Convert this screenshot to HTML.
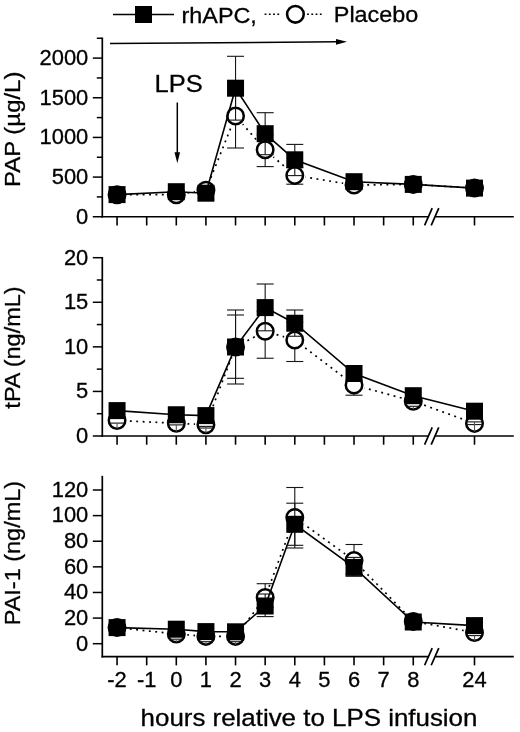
<!DOCTYPE html>
<html><head><meta charset="utf-8"><title>Figure</title>
<style>html,body{margin:0;padding:0;background:#fff}svg{display:block}text{stroke:#000;stroke-width:.3px}</style></head>
<body>
<svg width="520" height="732" viewBox="0 0 520 732" font-family='"Liberation Sans", sans-serif' fill="#000">
<rect width="520" height="732" fill="#fff"/>
<line x1="113.00" y1="14.50" x2="174.00" y2="14.50" stroke="#000" stroke-width="1.5" />
<rect x="135" y="6" width="17" height="17" fill="#000"/>
<text transform="translate(181.50,22.60) scale(1.04,1)" font-size="22.5" text-anchor="start" >rhAPC,</text>
<line x1="264.60" y1="14.20" x2="279.30" y2="14.20" stroke="#000" stroke-width="1.6" stroke-dasharray="1.8 2.45"/>
<line x1="307.10" y1="14.20" x2="321.80" y2="14.20" stroke="#000" stroke-width="1.6" stroke-dasharray="1.8 2.45"/>
<circle cx="295.4" cy="14.3" r="8.3" fill="#fff" stroke="#000" stroke-width="2.6"/>
<text transform="translate(333.80,21.70) scale(1.04,1)" font-size="22.5" text-anchor="start" >Placebo</text>
<g transform="rotate(-0.41 110 43.5)">
<line x1="110.00" y1="43.50" x2="338.00" y2="43.50" stroke="#000" stroke-width="1.5" />
<polygon points="347,43.5 336,40.6 336,46.4" fill="#000"/>
</g>
<text transform="translate(154.50,91.50) scale(1.041,1)" font-size="24.5" text-anchor="start" >LPS</text>
<line x1="177.30" y1="102.50" x2="177.30" y2="154.00" stroke="#000" stroke-width="1.5" />
<polygon points="177.3,163.3 174.5,152.3 180.1,152.3" fill="#000"/>
<polyline fill="none" stroke="#000" stroke-width="1.7" stroke-dasharray="1.9 4.5" points="117.06,194.70 176.30,194.70 205.92,190.20 235.54,116.00 265.16,149.80 294.78,175.40 354.02,185.00 413.26,184.40 474.50,188.10"/>
<circle cx="117.06" cy="194.70" r="11" fill="#fff"/>
<circle cx="176.30" cy="194.70" r="11" fill="#fff"/>
<circle cx="205.92" cy="190.20" r="11" fill="#fff"/>
<circle cx="235.54" cy="116.00" r="11" fill="#fff"/>
<circle cx="265.16" cy="149.80" r="11" fill="#fff"/>
<circle cx="294.78" cy="175.40" r="11" fill="#fff"/>
<circle cx="354.02" cy="185.00" r="11" fill="#fff"/>
<circle cx="413.26" cy="184.40" r="11" fill="#fff"/>
<circle cx="474.50" cy="188.10" r="11" fill="#fff"/>
<line x1="102.30" y1="37.55" x2="102.30" y2="217.60" stroke="#000" stroke-width="1.7" />
<line x1="92.80" y1="216.75" x2="102.30" y2="216.75" stroke="#000" stroke-width="1.5" />
<text transform="translate(88.30,223.55) scale(1.02,1)" font-size="21.5" text-anchor="end" >0</text>
<line x1="92.80" y1="177.09" x2="102.30" y2="177.09" stroke="#000" stroke-width="1.5" />
<text transform="translate(88.30,183.89) scale(1.02,1)" font-size="21.5" text-anchor="end" >500</text>
<line x1="92.80" y1="137.43" x2="102.30" y2="137.43" stroke="#000" stroke-width="1.5" />
<text transform="translate(88.30,144.23) scale(1.02,1)" font-size="21.5" text-anchor="end" >1000</text>
<line x1="92.80" y1="97.76" x2="102.30" y2="97.76" stroke="#000" stroke-width="1.5" />
<text transform="translate(88.30,104.56) scale(1.02,1)" font-size="21.5" text-anchor="end" >1500</text>
<line x1="92.80" y1="58.10" x2="102.30" y2="58.10" stroke="#000" stroke-width="1.5" />
<text transform="translate(88.30,64.90) scale(1.02,1)" font-size="21.5" text-anchor="end" >2000</text>
<line x1="96.80" y1="196.92" x2="102.30" y2="196.92" stroke="#000" stroke-width="1.5" />
<line x1="96.80" y1="157.26" x2="102.30" y2="157.26" stroke="#000" stroke-width="1.5" />
<line x1="96.80" y1="117.59" x2="102.30" y2="117.59" stroke="#000" stroke-width="1.5" />
<line x1="96.80" y1="77.93" x2="102.30" y2="77.93" stroke="#000" stroke-width="1.5" />
<line x1="96.80" y1="38.27" x2="102.30" y2="38.27" stroke="#000" stroke-width="1.5" />
<line x1="101.50" y1="216.75" x2="428.40" y2="216.75" stroke="#000" stroke-width="1.7" />
<line x1="435.20" y1="216.75" x2="513.80" y2="216.75" stroke="#000" stroke-width="1.7" />
<line x1="424.60" y1="225.35" x2="432.20" y2="208.15" stroke="#000" stroke-width="1.7" />
<line x1="431.20" y1="225.35" x2="438.80" y2="208.15" stroke="#000" stroke-width="1.7" />
<line x1="117.06" y1="216.75" x2="117.06" y2="225.45" stroke="#000" stroke-width="1.6" />
<line x1="146.68" y1="216.75" x2="146.68" y2="225.45" stroke="#000" stroke-width="1.6" />
<line x1="176.30" y1="216.75" x2="176.30" y2="225.45" stroke="#000" stroke-width="1.6" />
<line x1="205.92" y1="216.75" x2="205.92" y2="225.45" stroke="#000" stroke-width="1.6" />
<line x1="235.54" y1="216.75" x2="235.54" y2="225.45" stroke="#000" stroke-width="1.6" />
<line x1="265.16" y1="216.75" x2="265.16" y2="225.45" stroke="#000" stroke-width="1.6" />
<line x1="294.78" y1="216.75" x2="294.78" y2="225.45" stroke="#000" stroke-width="1.6" />
<line x1="324.40" y1="216.75" x2="324.40" y2="225.45" stroke="#000" stroke-width="1.6" />
<line x1="354.02" y1="216.75" x2="354.02" y2="225.45" stroke="#000" stroke-width="1.6" />
<line x1="383.64" y1="216.75" x2="383.64" y2="225.45" stroke="#000" stroke-width="1.6" />
<line x1="413.26" y1="216.75" x2="413.26" y2="225.45" stroke="#000" stroke-width="1.6" />
<line x1="474.50" y1="216.75" x2="474.50" y2="225.45" stroke="#000" stroke-width="1.6" />
<text transform="translate(20.3,129.3) rotate(-90)" font-size="22.8" text-anchor="middle" textLength="115.3" lengthAdjust="spacingAndGlyphs">PAP (µg/L)</text>
<line x1="235.54" y1="116.00" x2="235.54" y2="86.00" stroke="#151515" stroke-width="1.1" />
<line x1="227.04" y1="86.00" x2="244.04" y2="86.00" stroke="#151515" stroke-width="1.1" />
<line x1="235.54" y1="116.00" x2="235.54" y2="148.00" stroke="#151515" stroke-width="1.1" />
<line x1="227.04" y1="148.00" x2="244.04" y2="148.00" stroke="#151515" stroke-width="1.1" />
<line x1="265.16" y1="149.80" x2="265.16" y2="134.80" stroke="#151515" stroke-width="1.1" />
<line x1="256.66" y1="134.80" x2="273.66" y2="134.80" stroke="#151515" stroke-width="1.1" />
<line x1="265.16" y1="149.80" x2="265.16" y2="166.60" stroke="#151515" stroke-width="1.1" />
<line x1="256.66" y1="166.60" x2="273.66" y2="166.60" stroke="#151515" stroke-width="1.1" />
<line x1="294.78" y1="175.40" x2="294.78" y2="167.40" stroke="#151515" stroke-width="1.1" />
<line x1="286.28" y1="167.40" x2="303.28" y2="167.40" stroke="#151515" stroke-width="1.1" />
<line x1="294.78" y1="175.40" x2="294.78" y2="184.20" stroke="#151515" stroke-width="1.1" />
<line x1="286.28" y1="184.20" x2="303.28" y2="184.20" stroke="#151515" stroke-width="1.1" />
<circle cx="117.06" cy="194.70" r="8.25" fill="#fff" stroke="#000" stroke-width="2.5"/>
<circle cx="176.30" cy="194.70" r="8.25" fill="#fff" stroke="#000" stroke-width="2.5"/>
<circle cx="205.92" cy="190.20" r="8.25" fill="#fff" stroke="#000" stroke-width="2.5"/>
<circle cx="235.54" cy="116.00" r="8.25" fill="#fff" stroke="#000" stroke-width="2.5"/>
<circle cx="265.16" cy="149.80" r="8.25" fill="#fff" stroke="#000" stroke-width="2.5"/>
<circle cx="294.78" cy="175.40" r="8.25" fill="#fff" stroke="#000" stroke-width="2.5"/>
<circle cx="354.02" cy="185.00" r="8.25" fill="#fff" stroke="#000" stroke-width="2.5"/>
<circle cx="413.26" cy="184.40" r="8.25" fill="#fff" stroke="#000" stroke-width="2.5"/>
<circle cx="474.50" cy="188.10" r="8.25" fill="#fff" stroke="#000" stroke-width="2.5"/>
<polyline fill="none" stroke="#000" stroke-width="1.6" points="117.06,194.60 176.30,191.70 205.92,193.20 235.54,88.20 265.16,133.70 294.78,159.80 354.02,181.70 413.26,184.40 474.50,188.10"/>
<line x1="235.54" y1="88.20" x2="235.54" y2="56.30" stroke="#151515" stroke-width="1.1" />
<line x1="227.04" y1="56.30" x2="244.04" y2="56.30" stroke="#151515" stroke-width="1.1" />
<line x1="235.54" y1="88.20" x2="235.54" y2="120.10" stroke="#151515" stroke-width="1.1" />
<line x1="227.04" y1="120.10" x2="244.04" y2="120.10" stroke="#151515" stroke-width="1.1" />
<line x1="265.16" y1="133.70" x2="265.16" y2="112.70" stroke="#151515" stroke-width="1.1" />
<line x1="256.66" y1="112.70" x2="273.66" y2="112.70" stroke="#151515" stroke-width="1.1" />
<line x1="265.16" y1="133.70" x2="265.16" y2="154.70" stroke="#151515" stroke-width="1.1" />
<line x1="256.66" y1="154.70" x2="273.66" y2="154.70" stroke="#151515" stroke-width="1.1" />
<line x1="294.78" y1="159.80" x2="294.78" y2="144.40" stroke="#151515" stroke-width="1.1" />
<line x1="286.28" y1="144.40" x2="303.28" y2="144.40" stroke="#151515" stroke-width="1.1" />
<line x1="294.78" y1="159.80" x2="294.78" y2="175.60" stroke="#151515" stroke-width="1.1" />
<line x1="286.28" y1="175.60" x2="303.28" y2="175.60" stroke="#151515" stroke-width="1.1" />
<rect x="108.56" y="186.10" width="17" height="17" fill="#000"/>
<rect x="167.80" y="183.20" width="17" height="17" fill="#000"/>
<rect x="197.42" y="184.70" width="17" height="17" fill="#000"/>
<rect x="227.04" y="79.70" width="17" height="17" fill="#000"/>
<rect x="256.66" y="125.20" width="17" height="17" fill="#000"/>
<rect x="286.28" y="151.30" width="17" height="17" fill="#000"/>
<rect x="345.52" y="173.20" width="17" height="17" fill="#000"/>
<rect x="404.76" y="175.90" width="17" height="17" fill="#000"/>
<rect x="466.00" y="179.60" width="17" height="17" fill="#000"/>
<polyline fill="none" stroke="#000" stroke-width="1.7" stroke-dasharray="1.9 4.5" points="117.06,420.55 176.30,423.20 205.92,424.75 235.54,347.00 265.16,331.25 294.78,340.00 354.02,385.00 413.26,401.20 474.50,423.40"/>
<circle cx="117.06" cy="420.55" r="11" fill="#fff"/>
<circle cx="176.30" cy="423.20" r="11" fill="#fff"/>
<circle cx="205.92" cy="424.75" r="11" fill="#fff"/>
<circle cx="235.54" cy="347.00" r="11" fill="#fff"/>
<circle cx="265.16" cy="331.25" r="11" fill="#fff"/>
<circle cx="294.78" cy="340.00" r="11" fill="#fff"/>
<circle cx="354.02" cy="385.00" r="11" fill="#fff"/>
<circle cx="413.26" cy="401.20" r="11" fill="#fff"/>
<circle cx="474.50" cy="423.40" r="11" fill="#fff"/>
<line x1="102.30" y1="256.95" x2="102.30" y2="436.85" stroke="#000" stroke-width="1.7" />
<line x1="92.80" y1="436.00" x2="102.30" y2="436.00" stroke="#000" stroke-width="1.5" />
<text transform="translate(88.30,442.80) scale(1.02,1)" font-size="21.5" text-anchor="end" >0</text>
<line x1="92.80" y1="391.43" x2="102.30" y2="391.43" stroke="#000" stroke-width="1.5" />
<text transform="translate(88.30,398.23) scale(1.02,1)" font-size="21.5" text-anchor="end" >5</text>
<line x1="92.80" y1="346.85" x2="102.30" y2="346.85" stroke="#000" stroke-width="1.5" />
<text transform="translate(88.30,353.65) scale(1.02,1)" font-size="21.5" text-anchor="end" >10</text>
<line x1="92.80" y1="302.27" x2="102.30" y2="302.27" stroke="#000" stroke-width="1.5" />
<text transform="translate(88.30,309.07) scale(1.02,1)" font-size="21.5" text-anchor="end" >15</text>
<line x1="92.80" y1="257.70" x2="102.30" y2="257.70" stroke="#000" stroke-width="1.5" />
<text transform="translate(88.30,264.50) scale(1.02,1)" font-size="21.5" text-anchor="end" >20</text>
<line x1="96.80" y1="413.71" x2="102.30" y2="413.71" stroke="#000" stroke-width="1.5" />
<line x1="96.80" y1="369.14" x2="102.30" y2="369.14" stroke="#000" stroke-width="1.5" />
<line x1="96.80" y1="324.56" x2="102.30" y2="324.56" stroke="#000" stroke-width="1.5" />
<line x1="96.80" y1="279.99" x2="102.30" y2="279.99" stroke="#000" stroke-width="1.5" />
<line x1="101.50" y1="436.00" x2="428.40" y2="436.00" stroke="#000" stroke-width="1.7" />
<line x1="435.20" y1="436.00" x2="513.80" y2="436.00" stroke="#000" stroke-width="1.7" />
<line x1="424.60" y1="444.60" x2="432.20" y2="427.40" stroke="#000" stroke-width="1.7" />
<line x1="431.20" y1="444.60" x2="438.80" y2="427.40" stroke="#000" stroke-width="1.7" />
<line x1="117.06" y1="436.00" x2="117.06" y2="444.70" stroke="#000" stroke-width="1.6" />
<line x1="146.68" y1="436.00" x2="146.68" y2="444.70" stroke="#000" stroke-width="1.6" />
<line x1="176.30" y1="436.00" x2="176.30" y2="444.70" stroke="#000" stroke-width="1.6" />
<line x1="205.92" y1="436.00" x2="205.92" y2="444.70" stroke="#000" stroke-width="1.6" />
<line x1="235.54" y1="436.00" x2="235.54" y2="444.70" stroke="#000" stroke-width="1.6" />
<line x1="265.16" y1="436.00" x2="265.16" y2="444.70" stroke="#000" stroke-width="1.6" />
<line x1="294.78" y1="436.00" x2="294.78" y2="444.70" stroke="#000" stroke-width="1.6" />
<line x1="324.40" y1="436.00" x2="324.40" y2="444.70" stroke="#000" stroke-width="1.6" />
<line x1="354.02" y1="436.00" x2="354.02" y2="444.70" stroke="#000" stroke-width="1.6" />
<line x1="383.64" y1="436.00" x2="383.64" y2="444.70" stroke="#000" stroke-width="1.6" />
<line x1="413.26" y1="436.00" x2="413.26" y2="444.70" stroke="#000" stroke-width="1.6" />
<line x1="474.50" y1="436.00" x2="474.50" y2="444.70" stroke="#000" stroke-width="1.6" />
<text transform="translate(20.3,347.5) rotate(-90)" font-size="22.8" text-anchor="middle" textLength="122.3" lengthAdjust="spacingAndGlyphs">tPA (ng/mL)</text>
<line x1="235.54" y1="347.00" x2="235.54" y2="315.00" stroke="#151515" stroke-width="1.1" />
<line x1="227.04" y1="315.00" x2="244.04" y2="315.00" stroke="#151515" stroke-width="1.1" />
<line x1="235.54" y1="347.00" x2="235.54" y2="378.30" stroke="#151515" stroke-width="1.1" />
<line x1="227.04" y1="378.30" x2="244.04" y2="378.30" stroke="#151515" stroke-width="1.1" />
<line x1="265.16" y1="331.25" x2="265.16" y2="311.25" stroke="#151515" stroke-width="1.1" />
<line x1="256.66" y1="311.25" x2="273.66" y2="311.25" stroke="#151515" stroke-width="1.1" />
<line x1="265.16" y1="331.25" x2="265.16" y2="358.25" stroke="#151515" stroke-width="1.1" />
<line x1="256.66" y1="358.25" x2="273.66" y2="358.25" stroke="#151515" stroke-width="1.1" />
<line x1="294.78" y1="340.00" x2="294.78" y2="322.00" stroke="#151515" stroke-width="1.1" />
<line x1="286.28" y1="322.00" x2="303.28" y2="322.00" stroke="#151515" stroke-width="1.1" />
<line x1="294.78" y1="340.00" x2="294.78" y2="361.50" stroke="#151515" stroke-width="1.1" />
<line x1="286.28" y1="361.50" x2="303.28" y2="361.50" stroke="#151515" stroke-width="1.1" />
<line x1="354.02" y1="385.00" x2="354.02" y2="380.00" stroke="#151515" stroke-width="1.1" />
<line x1="345.52" y1="380.00" x2="362.52" y2="380.00" stroke="#151515" stroke-width="1.1" />
<line x1="354.02" y1="385.00" x2="354.02" y2="395.20" stroke="#151515" stroke-width="1.1" />
<line x1="345.52" y1="395.20" x2="362.52" y2="395.20" stroke="#151515" stroke-width="1.1" />
<circle cx="117.06" cy="420.55" r="8.25" fill="#fff" stroke="#000" stroke-width="2.5"/>
<circle cx="176.30" cy="423.20" r="8.25" fill="#fff" stroke="#000" stroke-width="2.5"/>
<circle cx="205.92" cy="424.75" r="8.25" fill="#fff" stroke="#000" stroke-width="2.5"/>
<circle cx="235.54" cy="347.00" r="8.25" fill="#fff" stroke="#000" stroke-width="2.5"/>
<circle cx="265.16" cy="331.25" r="8.25" fill="#fff" stroke="#000" stroke-width="2.5"/>
<circle cx="294.78" cy="340.00" r="8.25" fill="#fff" stroke="#000" stroke-width="2.5"/>
<circle cx="354.02" cy="385.00" r="8.25" fill="#fff" stroke="#000" stroke-width="2.5"/>
<circle cx="413.26" cy="401.20" r="8.25" fill="#fff" stroke="#000" stroke-width="2.5"/>
<circle cx="474.50" cy="423.40" r="8.25" fill="#fff" stroke="#000" stroke-width="2.5"/>
<polyline fill="none" stroke="#000" stroke-width="1.6" points="117.06,410.60 176.30,414.75 205.92,415.60 235.54,347.00 265.16,307.60 294.78,323.25 354.02,373.50 413.26,395.70 474.50,411.20"/>
<line x1="235.54" y1="347.00" x2="235.54" y2="310.00" stroke="#151515" stroke-width="1.1" />
<line x1="227.04" y1="310.00" x2="244.04" y2="310.00" stroke="#151515" stroke-width="1.1" />
<line x1="235.54" y1="347.00" x2="235.54" y2="384.00" stroke="#151515" stroke-width="1.1" />
<line x1="227.04" y1="384.00" x2="244.04" y2="384.00" stroke="#151515" stroke-width="1.1" />
<line x1="265.16" y1="307.60" x2="265.16" y2="284.00" stroke="#151515" stroke-width="1.1" />
<line x1="256.66" y1="284.00" x2="273.66" y2="284.00" stroke="#151515" stroke-width="1.1" />
<line x1="265.16" y1="307.60" x2="265.16" y2="330.80" stroke="#151515" stroke-width="1.1" />
<line x1="256.66" y1="330.80" x2="273.66" y2="330.80" stroke="#151515" stroke-width="1.1" />
<line x1="294.78" y1="323.25" x2="294.78" y2="310.00" stroke="#151515" stroke-width="1.1" />
<line x1="286.28" y1="310.00" x2="303.28" y2="310.00" stroke="#151515" stroke-width="1.1" />
<line x1="294.78" y1="323.25" x2="294.78" y2="336.25" stroke="#151515" stroke-width="1.1" />
<line x1="286.28" y1="336.25" x2="303.28" y2="336.25" stroke="#151515" stroke-width="1.1" />
<line x1="109.86" y1="423.10" x2="124.26" y2="423.10" stroke="#111" stroke-width="1.1" />
<line x1="117.06" y1="423.10" x2="117.06" y2="428.60" stroke="#555" stroke-width="1.1" />
<line x1="169.10" y1="424.90" x2="183.50" y2="424.90" stroke="#111" stroke-width="1.1" />
<line x1="176.30" y1="424.90" x2="176.30" y2="431.40" stroke="#555" stroke-width="1.1" />
<line x1="198.72" y1="426.40" x2="213.12" y2="426.40" stroke="#111" stroke-width="1.1" />
<line x1="198.72" y1="428.00" x2="213.12" y2="428.00" stroke="#111" stroke-width="1.1" />
<line x1="205.92" y1="426.40" x2="205.92" y2="433.00" stroke="#555" stroke-width="1.1" />
<line x1="406.06" y1="406.30" x2="420.46" y2="406.30" stroke="#111" stroke-width="1.1" />
<line x1="413.26" y1="406.30" x2="413.26" y2="409.30" stroke="#555" stroke-width="1.1" />
<line x1="467.30" y1="421.90" x2="481.70" y2="421.90" stroke="#111" stroke-width="1.1" />
<line x1="467.30" y1="424.60" x2="481.70" y2="424.60" stroke="#111" stroke-width="1.1" />
<line x1="474.50" y1="421.90" x2="474.50" y2="431.60" stroke="#555" stroke-width="1.1" />
<rect x="108.56" y="402.10" width="17" height="17" fill="#000"/>
<rect x="167.80" y="406.25" width="17" height="17" fill="#000"/>
<rect x="197.42" y="407.10" width="17" height="17" fill="#000"/>
<rect x="227.04" y="338.50" width="17" height="17" fill="#000"/>
<rect x="256.66" y="299.10" width="17" height="17" fill="#000"/>
<rect x="286.28" y="314.75" width="17" height="17" fill="#000"/>
<rect x="345.52" y="365.00" width="17" height="17" fill="#000"/>
<rect x="404.76" y="387.20" width="17" height="17" fill="#000"/>
<rect x="466.00" y="402.70" width="17" height="17" fill="#000"/>
<polyline fill="none" stroke="#000" stroke-width="1.7" stroke-dasharray="1.9 4.5" points="117.06,627.60 176.30,634.00 205.92,636.40 235.54,636.40 265.16,597.50 294.78,517.50 354.02,560.50 413.26,621.40 474.50,632.50"/>
<circle cx="117.06" cy="627.60" r="11" fill="#fff"/>
<circle cx="176.30" cy="634.00" r="11" fill="#fff"/>
<circle cx="205.92" cy="636.40" r="11" fill="#fff"/>
<circle cx="235.54" cy="636.40" r="11" fill="#fff"/>
<circle cx="265.16" cy="597.50" r="11" fill="#fff"/>
<circle cx="294.78" cy="517.50" r="11" fill="#fff"/>
<circle cx="354.02" cy="560.50" r="11" fill="#fff"/>
<circle cx="413.26" cy="621.40" r="11" fill="#fff"/>
<circle cx="474.50" cy="632.50" r="11" fill="#fff"/>
<line x1="102.30" y1="475.85" x2="102.30" y2="657.50" stroke="#000" stroke-width="1.7" />
<line x1="92.80" y1="643.70" x2="102.30" y2="643.70" stroke="#000" stroke-width="1.5" />
<text transform="translate(88.30,650.50) scale(1.02,1)" font-size="21.5" text-anchor="end" >0</text>
<line x1="92.80" y1="618.08" x2="102.30" y2="618.08" stroke="#000" stroke-width="1.5" />
<text transform="translate(88.30,624.88) scale(1.02,1)" font-size="21.5" text-anchor="end" >20</text>
<line x1="92.80" y1="592.47" x2="102.30" y2="592.47" stroke="#000" stroke-width="1.5" />
<text transform="translate(88.30,599.27) scale(1.02,1)" font-size="21.5" text-anchor="end" >40</text>
<line x1="92.80" y1="566.85" x2="102.30" y2="566.85" stroke="#000" stroke-width="1.5" />
<text transform="translate(88.30,573.65) scale(1.02,1)" font-size="21.5" text-anchor="end" >60</text>
<line x1="92.80" y1="541.24" x2="102.30" y2="541.24" stroke="#000" stroke-width="1.5" />
<text transform="translate(88.30,548.04) scale(1.02,1)" font-size="21.5" text-anchor="end" >80</text>
<line x1="92.80" y1="515.62" x2="102.30" y2="515.62" stroke="#000" stroke-width="1.5" />
<text transform="translate(88.30,522.42) scale(1.02,1)" font-size="21.5" text-anchor="end" >100</text>
<line x1="92.80" y1="490.00" x2="102.30" y2="490.00" stroke="#000" stroke-width="1.5" />
<text transform="translate(88.30,496.80) scale(1.02,1)" font-size="21.5" text-anchor="end" >120</text>
<line x1="101.50" y1="656.65" x2="428.40" y2="656.65" stroke="#000" stroke-width="1.7" />
<line x1="435.20" y1="656.65" x2="513.80" y2="656.65" stroke="#000" stroke-width="1.7" />
<line x1="424.60" y1="665.25" x2="432.20" y2="648.05" stroke="#000" stroke-width="1.7" />
<line x1="431.20" y1="665.25" x2="438.80" y2="648.05" stroke="#000" stroke-width="1.7" />
<line x1="117.06" y1="656.65" x2="117.06" y2="665.35" stroke="#000" stroke-width="1.6" />
<line x1="146.68" y1="656.65" x2="146.68" y2="665.35" stroke="#000" stroke-width="1.6" />
<line x1="176.30" y1="656.65" x2="176.30" y2="665.35" stroke="#000" stroke-width="1.6" />
<line x1="205.92" y1="656.65" x2="205.92" y2="665.35" stroke="#000" stroke-width="1.6" />
<line x1="235.54" y1="656.65" x2="235.54" y2="665.35" stroke="#000" stroke-width="1.6" />
<line x1="265.16" y1="656.65" x2="265.16" y2="665.35" stroke="#000" stroke-width="1.6" />
<line x1="294.78" y1="656.65" x2="294.78" y2="665.35" stroke="#000" stroke-width="1.6" />
<line x1="324.40" y1="656.65" x2="324.40" y2="665.35" stroke="#000" stroke-width="1.6" />
<line x1="354.02" y1="656.65" x2="354.02" y2="665.35" stroke="#000" stroke-width="1.6" />
<line x1="383.64" y1="656.65" x2="383.64" y2="665.35" stroke="#000" stroke-width="1.6" />
<line x1="413.26" y1="656.65" x2="413.26" y2="665.35" stroke="#000" stroke-width="1.6" />
<line x1="474.50" y1="656.65" x2="474.50" y2="665.35" stroke="#000" stroke-width="1.6" />
<text transform="translate(20.3,553.1) rotate(-90)" font-size="22.8" text-anchor="middle" textLength="144.3" lengthAdjust="spacingAndGlyphs">PAI-1 (ng/mL)</text>
<line x1="265.16" y1="597.50" x2="265.16" y2="583.70" stroke="#151515" stroke-width="1.1" />
<line x1="256.66" y1="583.70" x2="273.66" y2="583.70" stroke="#151515" stroke-width="1.1" />
<line x1="265.16" y1="597.50" x2="265.16" y2="607.50" stroke="#151515" stroke-width="1.1" />
<line x1="256.66" y1="607.50" x2="273.66" y2="607.50" stroke="#151515" stroke-width="1.1" />
<line x1="294.78" y1="517.50" x2="294.78" y2="487.50" stroke="#151515" stroke-width="1.1" />
<line x1="286.28" y1="487.50" x2="303.28" y2="487.50" stroke="#151515" stroke-width="1.1" />
<line x1="294.78" y1="517.50" x2="294.78" y2="548.00" stroke="#151515" stroke-width="1.1" />
<line x1="286.28" y1="548.00" x2="303.28" y2="548.00" stroke="#151515" stroke-width="1.1" />
<line x1="354.02" y1="560.50" x2="354.02" y2="544.50" stroke="#151515" stroke-width="1.1" />
<line x1="345.52" y1="544.50" x2="362.52" y2="544.50" stroke="#151515" stroke-width="1.1" />
<line x1="354.02" y1="560.50" x2="354.02" y2="576.30" stroke="#151515" stroke-width="1.1" />
<line x1="345.52" y1="576.30" x2="362.52" y2="576.30" stroke="#151515" stroke-width="1.1" />
<circle cx="117.06" cy="627.60" r="8.25" fill="#fff" stroke="#000" stroke-width="2.5"/>
<circle cx="176.30" cy="634.00" r="8.25" fill="#fff" stroke="#000" stroke-width="2.5"/>
<circle cx="205.92" cy="636.40" r="8.25" fill="#fff" stroke="#000" stroke-width="2.5"/>
<circle cx="235.54" cy="636.40" r="8.25" fill="#fff" stroke="#000" stroke-width="2.5"/>
<circle cx="265.16" cy="597.50" r="8.25" fill="#fff" stroke="#000" stroke-width="2.5"/>
<circle cx="294.78" cy="517.50" r="8.25" fill="#fff" stroke="#000" stroke-width="2.5"/>
<circle cx="354.02" cy="560.50" r="8.25" fill="#fff" stroke="#000" stroke-width="2.5"/>
<circle cx="413.26" cy="621.40" r="8.25" fill="#fff" stroke="#000" stroke-width="2.5"/>
<circle cx="474.50" cy="632.50" r="8.25" fill="#fff" stroke="#000" stroke-width="2.5"/>
<polyline fill="none" stroke="#000" stroke-width="1.6" points="117.06,627.60 176.30,629.20 205.92,631.60 235.54,631.80 265.16,606.00 294.78,524.30 354.02,567.40 413.26,622.00 474.50,625.60"/>
<line x1="265.16" y1="606.00" x2="265.16" y2="594.00" stroke="#151515" stroke-width="1.1" />
<line x1="256.66" y1="594.00" x2="273.66" y2="594.00" stroke="#151515" stroke-width="1.1" />
<line x1="265.16" y1="606.00" x2="265.16" y2="616.60" stroke="#151515" stroke-width="1.1" />
<line x1="256.66" y1="616.60" x2="273.66" y2="616.60" stroke="#151515" stroke-width="1.1" />
<line x1="294.78" y1="524.30" x2="294.78" y2="503.20" stroke="#151515" stroke-width="1.1" />
<line x1="286.28" y1="503.20" x2="303.28" y2="503.20" stroke="#151515" stroke-width="1.1" />
<line x1="294.78" y1="524.30" x2="294.78" y2="545.30" stroke="#151515" stroke-width="1.1" />
<line x1="286.28" y1="545.30" x2="303.28" y2="545.30" stroke="#151515" stroke-width="1.1" />
<line x1="354.02" y1="567.40" x2="354.02" y2="557.40" stroke="#151515" stroke-width="1.1" />
<line x1="345.52" y1="557.40" x2="362.52" y2="557.40" stroke="#151515" stroke-width="1.1" />
<line x1="354.02" y1="567.40" x2="354.02" y2="574.00" stroke="#151515" stroke-width="1.1" />
<line x1="345.52" y1="574.00" x2="362.52" y2="574.00" stroke="#151515" stroke-width="1.1" />
<line x1="169.10" y1="639.20" x2="183.50" y2="639.20" stroke="#111" stroke-width="1.1" />
<line x1="176.30" y1="639.20" x2="176.30" y2="642.20" stroke="#555" stroke-width="1.1" />
<line x1="198.72" y1="641.70" x2="213.12" y2="641.70" stroke="#111" stroke-width="1.1" />
<line x1="205.92" y1="641.70" x2="205.92" y2="644.60" stroke="#555" stroke-width="1.1" />
<line x1="228.34" y1="641.70" x2="242.74" y2="641.70" stroke="#111" stroke-width="1.1" />
<line x1="235.54" y1="641.70" x2="235.54" y2="644.60" stroke="#555" stroke-width="1.1" />
<line x1="467.30" y1="635.60" x2="481.70" y2="635.60" stroke="#111" stroke-width="1.1" />
<line x1="474.50" y1="635.60" x2="474.50" y2="640.70" stroke="#555" stroke-width="1.1" />
<rect x="108.56" y="619.10" width="17" height="17" fill="#000"/>
<rect x="167.80" y="620.70" width="17" height="17" fill="#000"/>
<rect x="197.42" y="623.10" width="17" height="17" fill="#000"/>
<rect x="227.04" y="623.30" width="17" height="17" fill="#000"/>
<rect x="256.66" y="597.50" width="17" height="17" fill="#000"/>
<rect x="286.28" y="515.80" width="17" height="17" fill="#000"/>
<rect x="345.52" y="558.90" width="17" height="17" fill="#000"/>
<rect x="404.76" y="613.50" width="17" height="17" fill="#000"/>
<rect x="466.00" y="617.10" width="17" height="17" fill="#000"/>
<text transform="translate(117.06,686.60) scale(1.02,1)" font-size="21.5" text-anchor="middle" >-2</text>
<text transform="translate(146.68,686.60) scale(1.02,1)" font-size="21.5" text-anchor="middle" >-1</text>
<text transform="translate(176.30,686.60) scale(1.02,1)" font-size="21.5" text-anchor="middle" >0</text>
<text transform="translate(205.92,686.60) scale(1.02,1)" font-size="21.5" text-anchor="middle" >1</text>
<text transform="translate(235.54,686.60) scale(1.02,1)" font-size="21.5" text-anchor="middle" >2</text>
<text transform="translate(265.16,686.60) scale(1.02,1)" font-size="21.5" text-anchor="middle" >3</text>
<text transform="translate(294.78,686.60) scale(1.02,1)" font-size="21.5" text-anchor="middle" >4</text>
<text transform="translate(324.40,686.60) scale(1.02,1)" font-size="21.5" text-anchor="middle" >5</text>
<text transform="translate(354.02,686.60) scale(1.02,1)" font-size="21.5" text-anchor="middle" >6</text>
<text transform="translate(383.64,686.60) scale(1.02,1)" font-size="21.5" text-anchor="middle" >7</text>
<text transform="translate(413.26,686.60) scale(1.02,1)" font-size="21.5" text-anchor="middle" >8</text>
<text transform="translate(474.50,686.60) scale(1.02,1)" font-size="21.5" text-anchor="middle" >24</text>
<text transform="translate(140.60,725.80) scale(1.1023,1)" font-size="23.5" text-anchor="start" >hours relative to LPS infusion</text>
</svg>
</body></html>
